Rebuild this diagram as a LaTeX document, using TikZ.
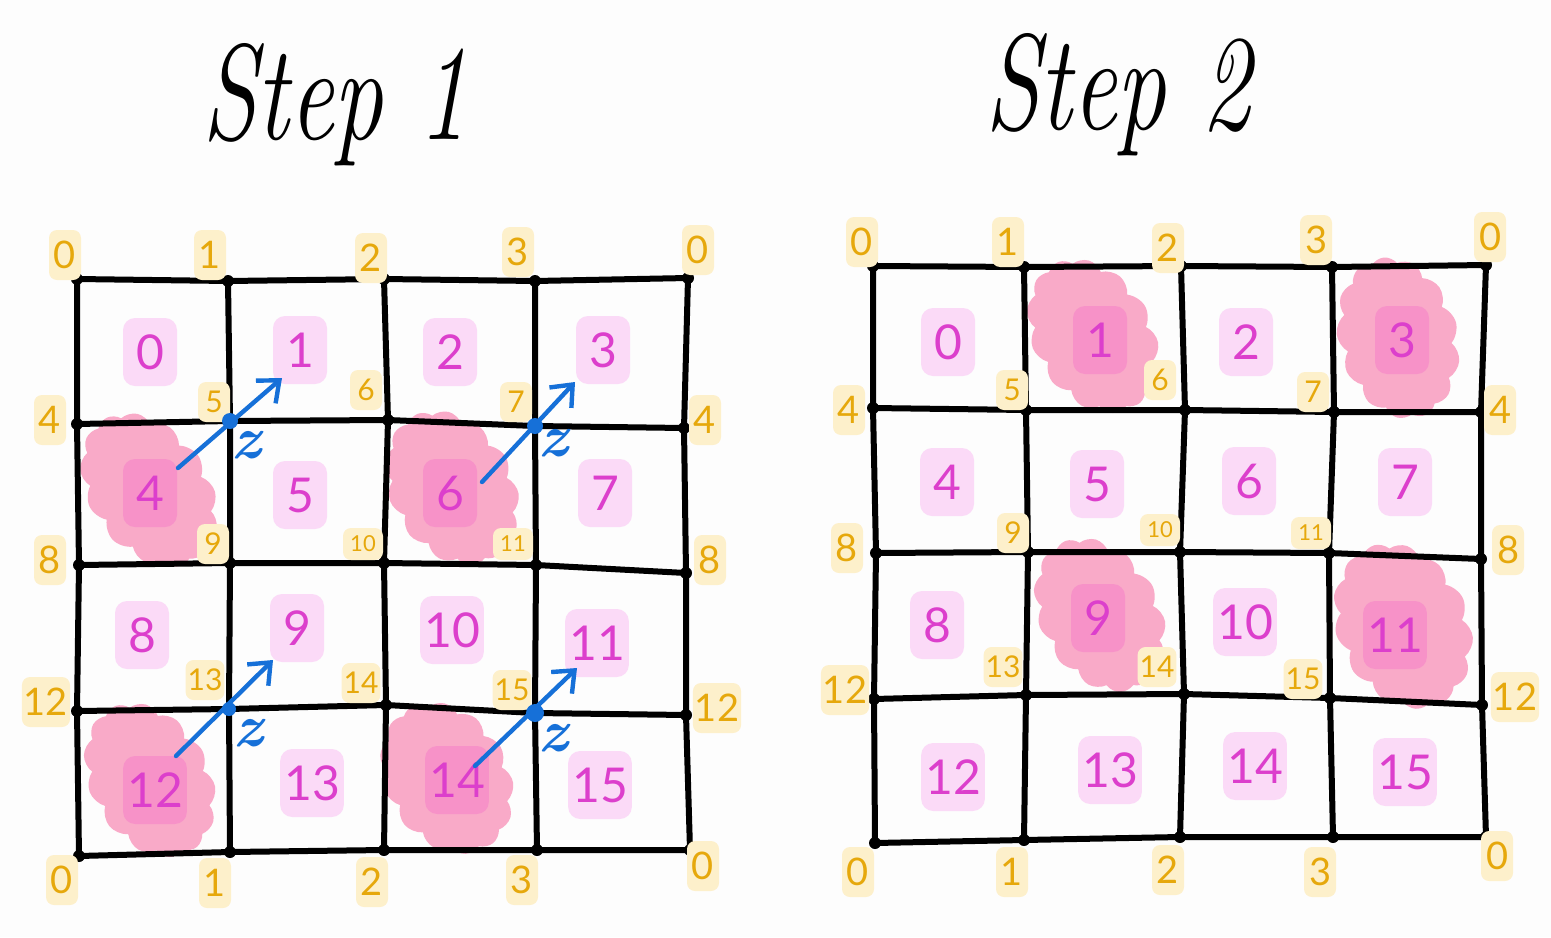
\documentclass[tikz,border=0pt]{standalone}
\usepackage{fontspec}
\setsansfont{Lato}
\usetikzlibrary{arrows.meta,shapes.symbols}
\definecolor{bgc}{HTML}{FDFDFD}
\definecolor{goldc}{HTML}{E6A80C}
\definecolor{yelhl}{HTML}{FDF0CB}
\definecolor{magc}{HTML}{DC3FCC}
\definecolor{pinkhl}{HTML}{FBDAF7}
\definecolor{blobc}{HTML}{F9AAC8}
\definecolor{blobin}{HTML}{F792C8}
\definecolor{bluec}{HTML}{1670D8}
\tikzset{
  gridline/.style={line width=3pt, black, line join=round, line cap=round},
  vlab/.style={text=goldc, fill=yelhl, rounded corners=4pt, font=\sffamily\fontsize{19}{19}\selectfont, minimum width=16pt, minimum height=25pt, inner sep=1pt},
  vlabs/.style={vlab, font=\sffamily\fontsize{15}{15}\selectfont, minimum height=20pt},
  vlabt/.style={vlab, font=\sffamily\fontsize{11}{11}\selectfont, minimum height=16pt, minimum width=20pt},
  cellnum/.style={text=magc, fill=pinkhl, rounded corners=6pt, font=\sffamily\fontsize{24}{24}\selectfont, minimum width=27pt, minimum height=34pt, inner sep=2pt},
  hotnum/.style={cellnum, fill=blobin},
  blob/.style={cloud, cloud puffs=13, cloud puff arc=110, fill=blobc, draw=none, aspect=1.4, inner sep=0pt},
  zarrow/.style={bluec, line width=2.2pt, line cap=round, -{Straight Barb[length=9pt,width=15pt,line width=2.2pt]}},
  zlab/.style={text=bluec, font=\bfseries\itshape\fontsize{30}{30}\selectfont, inner sep=0pt},
  title/.style={font=\itshape\fontsize{62}{62}\selectfont, text=black, inner sep=0pt, xscale=0.8, yscale=1.1}
}
\begin{document}
\begin{tikzpicture}[x=0.5pt,y=-0.5pt]
\useasboundingbox (0,0) rectangle (1551,937);
\fill[bgc] (0,0) rectangle (1551,937);

% titles
\node[title] (t1) at (335,105) {Step 1};
\node[title] (t2) at (1118,95) {Step 2};

% grid vertices
\coordinate (L00) at (77,279); \coordinate (L01) at (228,281); \coordinate (L02) at (384,279); \coordinate (L03) at (535,281); \coordinate (L04) at (688,278);
\coordinate (L10) at (77,424); \coordinate (L11) at (230,421); \coordinate (L12) at (388,420); \coordinate (L13) at (535,426); \coordinate (L14) at (684,428);
\coordinate (L20) at (79,565); \coordinate (L21) at (230,563); \coordinate (L22) at (384,563); \coordinate (L23) at (536,565); \coordinate (L24) at (686,573);
\coordinate (L30) at (77,711); \coordinate (L31) at (229,709); \coordinate (L32) at (386,705); \coordinate (L33) at (535,713); \coordinate (L34) at (686,715);
\coordinate (L40) at (79,856); \coordinate (L41) at (230,852); \coordinate (L42) at (384,850); \coordinate (L43) at (537,850); \coordinate (L44) at (690,850);

\coordinate (R00) at (873,266); \coordinate (R01) at (1024,267); \coordinate (R02) at (1181,266); \coordinate (R03) at (1332,267); \coordinate (R04) at (1486,265);
\coordinate (R10) at (873,408); \coordinate (R11) at (1026,410); \coordinate (R12) at (1185,410); \coordinate (R13) at (1334,412); \coordinate (R14) at (1481,412);
\coordinate (R20) at (876,553); \coordinate (R21) at (1028,552); \coordinate (R22) at (1180,552); \coordinate (R23) at (1329,553); \coordinate (R24) at (1481,559);
\coordinate (R30) at (874,699); \coordinate (R31) at (1026,695); \coordinate (R32) at (1184,694); \coordinate (R33) at (1330,698); \coordinate (R34) at (1482,705);
\coordinate (R40) at (875,843); \coordinate (R41) at (1024,840); \coordinate (R42) at (1180,837); \coordinate (R43) at (1333,837); \coordinate (R44) at (1486,837);

% blobs
\node[blob, minimum width=84pt, minimum height=60pt, rotate=-55] (bL4) at (149,490) {};
\node[blob, minimum width=82pt, minimum height=62pt, rotate=-60] (bL6) at (452,488) {};
\node[blob, minimum width=82pt, minimum height=60pt, rotate=-60] (bL12) at (150,780) {};
\node[blob, minimum width=80pt, minimum height=62pt, rotate=-60] (bL14) at (447,778) {};
\node[blob, minimum width=82pt, minimum height=60pt, rotate=-60] (bR1) at (1093,336) {};
\node[blob, minimum width=82pt, minimum height=60pt, rotate=-75] (bR3) at (1398,338) {};
\node[blob, minimum width=82pt, minimum height=60pt, rotate=-60] (bR9) at (1100,615) {};
\node[blob, minimum width=86pt, minimum height=66pt, rotate=-65] (bR11) at (1403,626) {};

% grid lines
\foreach \g in {L,R}{
  \foreach \r in {0,...,4}{
    \draw[gridline] (\g\r0) -- (\g\r1) -- (\g\r2) -- (\g\r3) -- (\g\r4);
    \draw[gridline] (\g0\r) -- (\g1\r) -- (\g2\r) -- (\g3\r) -- (\g4\r);
  }
  \foreach \r in {0,...,4}{
    \foreach \c in {0,...,4}{
      \fill (\g\r\c) circle (6);
    }
  }
}

% left cell numbers
\node[cellnum] (lc0) at (150,352) {0};
\node[cellnum] (lc1) at (300,350) {1};
\node[cellnum] (lc2) at (450,352) {2};
\node[cellnum] (lc3) at (603,350) {3};
\node[hotnum] (lc4) at (150,493) {4};
\node[cellnum] (lc5) at (300,495) {5};
\node[hotnum] (lc6) at (450,493) {6};
\node[cellnum] (lc7) at (605,493) {7};
\node[cellnum] (lc8) at (142,635) {8};
\node[cellnum] (lc9) at (297,628) {9};
\node[cellnum] (lc10) at (452,630) {10};
\node[cellnum] (lc11) at (597,643) {11};
\node[hotnum] (lc12) at (155,790) {12};
\node[cellnum] (lc13) at (312,783) {13};
\node[hotnum] (lc14) at (457,780) {14};
\node[cellnum] (lc15) at (600,785) {15};

% right cell numbers
\node[cellnum] (rc0) at (948,342) {0};
\node[hotnum] (rc1) at (1100,340) {1};
\node[cellnum] (rc2) at (1246,342) {2};
\node[hotnum] (rc3) at (1402,340) {3};
\node[cellnum] (rc4) at (947,482) {4};
\node[cellnum] (rc5) at (1097,484) {5};
\node[cellnum] (rc6) at (1249,481) {6};
\node[cellnum] (rc7) at (1405,482) {7};
\node[cellnum] (rc8) at (937,625) {8};
\node[hotnum] (rc9) at (1098,618) {9};
\node[cellnum] (rc10) at (1245,622) {10};
\node[hotnum] (rc11) at (1395,635) {11};
\node[cellnum] (rc12) at (953,777) {12};
\node[cellnum] (rc13) at (1110,770) {13};
\node[cellnum] (rc14) at (1255,766) {14};
\node[cellnum] (rc15) at (1405,772) {15};

% left vertex labels
\node[vlab] (lvt0) at (65,255) {0};
\node[vlab] (lvt1) at (210,255) {1};
\node[vlab] (lvt2) at (371,258) {2};
\node[vlab] (lvt3) at (518,252) {3};
\node[vlab] (lvt4) at (698,250) {0};
\node[vlab] (lvl4) at (50,420) {4};
\node[vlab] (lvl8) at (50,560) {8};
\node[vlab] (lvl12) at (46,702) {12};
\node[vlab] (lvb0) at (62,880) {0};
\node[vlab] (lvb1) at (215,883) {1};
\node[vlab] (lvb2) at (372,882) {2};
\node[vlab] (lvb3) at (522,880) {3};
\node[vlab] (lvr4) at (705,420) {4};
\node[vlab] (lvr8) at (710,560) {8};
\node[vlab] (lvr12) at (717,708) {12};
\node[vlab] (lvr0) at (703,866) {0};
\node[vlabs] (lv5) at (214,402) {5};
\node[vlabs] (lv6) at (366,390) {6};
\node[vlabs] (lv7) at (516,402) {7};
\node[vlabs] (lv9) at (213,544) {9};
\node[vlabt] (lv10) at (363,544) {10};
\node[vlabt] (lv11) at (513,544) {11};
\node[vlabs] (lv13) at (205,680) {13};
\node[vlabs] (lv14) at (361,683) {14};
\node[vlabs] (lv15) at (512,690) {15};

% right vertex labels
\node[vlab] (rvt0) at (862,242) {0};
\node[vlab] (rvt1) at (1008,242) {1};
\node[vlab] (rvt2) at (1168,248) {2};
\node[vlab] (rvt3) at (1316,240) {3};
\node[vlab] (rvt4) at (1490,237) {0};
\node[vlab] (rvl4) at (849,410) {4};
\node[vlab] (rvl8) at (847,548) {8};
\node[vlab] (rvl12) at (845,690) {12};
\node[vlab] (rvb0) at (858,872) {0};
\node[vlab] (rvb1) at (1012,872) {1};
\node[vlab] (rvb2) at (1168,870) {2};
\node[vlab] (rvb3) at (1320,872) {3};
\node[vlab] (rvr4) at (1500,410) {4};
\node[vlab] (rvr8) at (1508,550) {8};
\node[vlab] (rvr12) at (1515,697) {12};
\node[vlab] (rvr0) at (1497,856) {0};
\node[vlabs] (rv5) at (1012,390) {5};
\node[vlabs] (rv6) at (1160,380) {6};
\node[vlabs] (rv7) at (1313,392) {7};
\node[vlabs] (rv9) at (1013,533) {9};
\node[vlabt] (rv10) at (1160,530) {10};
\node[vlabt] (rv11) at (1311,533) {11};
\node[vlabs] (rv13) at (1003,667) {13};
\node[vlabs] (rv14) at (1157,667) {14};
\node[vlabs] (rv15) at (1303,679) {15};

% blue arrows
\coordinate (a1s) at (178,468); \coordinate (a1e) at (282,378);
\coordinate (a2s) at (482,482); \coordinate (a2e) at (575,382);
\coordinate (a3s) at (176,756); \coordinate (a3e) at (273,660);
\coordinate (a4s) at (475,766); \coordinate (a4e) at (577,668);
\draw[zarrow] (a1s) -- (a1e);
\draw[zarrow] (a2s) -- (a2e);
\draw[zarrow] (a3s) -- (a3e);
\draw[zarrow] (a4s) -- (a4e);
\fill[bluec] (L11) circle (8);
\fill[bluec] (L13) circle (8);
\fill[bluec] (L31) circle (7);
\fill[bluec] (L33) circle (9);
\node[zlab] (z1) at (246,445) {z};
\node[zlab] (z2) at (553,443) {z};
\node[zlab] (z3) at (248,733) {z};
\node[zlab] (z4) at (553,738) {z};
\end{tikzpicture}
\end{document}
